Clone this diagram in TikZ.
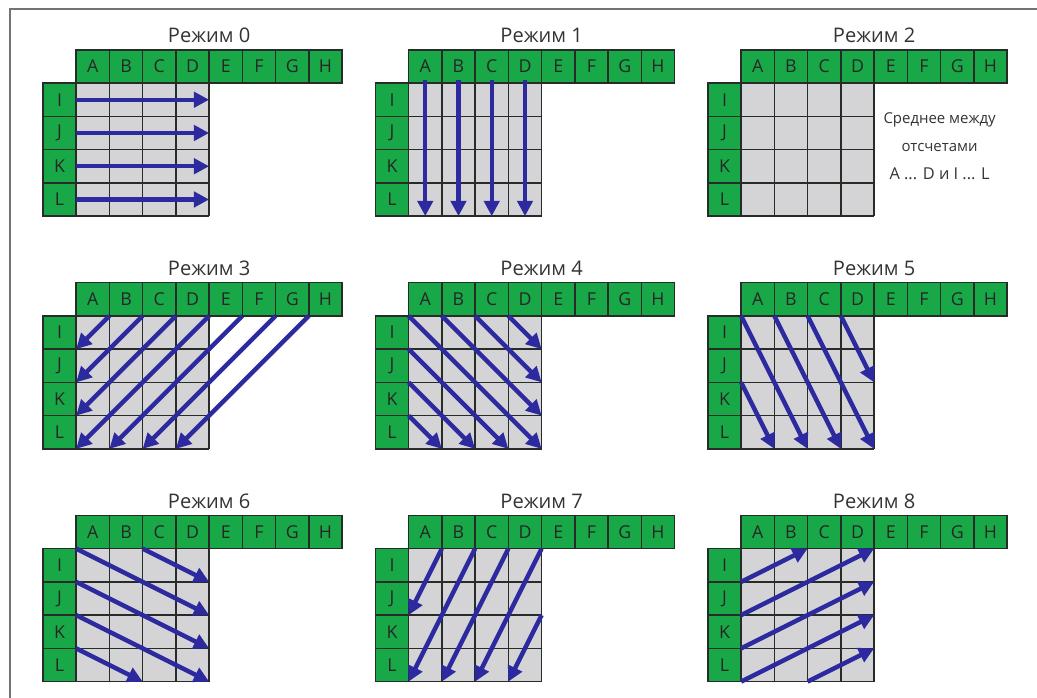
\documentclass[tikz,border=0pt]{standalone}
\usepackage{fontspec}
\setmainfont{Open Sans}
\usetikzlibrary{arrows.meta}

\definecolor{cellgreen}{RGB}{24,168,72}
\definecolor{cellgray}{RGB}{212,212,214}
\definecolor{gridline}{RGB}{40,44,40}
\definecolor{arrowblue}{RGB}{44,42,158}

\begin{document}
\begin{tikzpicture}[x=0.5cm, y=0.5cm,
    cell/.style={draw=gridline, line width=0.6pt, fill=cellgreen, minimum size=0.5cm, inner sep=0pt,
      font=\fontsize{7.6}{8}\selectfont, text=black!85},
    ray/.style={-{Triangle[length=6.5pt, width=6.5pt]}, line width=1.9pt, arrowblue},
    title/.style={anchor=base, font=\fontsize{8.6}{10}\selectfont, text=black!80},
    note/.style={anchor=base, font=\fontsize{6.4}{7}\selectfont, text=black!80},
]
  \useasboundingbox (0,0) rectangle (31.19,20.99);
  % page frame (top and left only)
  \draw[black!55, line width=0.8pt] (0.30,0) -- (0.30,20.72) -- (31.19,20.72);

  % the nine panels: grid, header row A..H, side column I..L
  \foreach \m/\c/\r in {0/0/0, 1/1/0, 2/2/0, 3/0/1, 4/1/1, 5/2/1, 6/0/2, 7/1/2, 8/2/2} {
    \coordinate (o\m) at ({2.29+10*\c}, {18.49-7*\r});
    \begin{scope}[shift={(o\m)}]
      \fill[cellgray] (0,-4) rectangle (4,0);
      \draw[gridline, line width=0.6pt, step=0.5cm] (0,-4) grid (4,0);
      \foreach \l [count=\i from 0] in {A,B,C,D,E,F,G,H}
        \node[cell] (p\m-\l) at ({\i+0.5}, 0.5) {\l};
      \foreach \l [count=\i from 0] in {I,J,K,L}
        \node[cell] (p\m-\l) at (-0.5, {-\i-0.5}) {\l};
      \node[title] (t\m) at (4, 1.21) {Режим \m};
    \end{scope}
  }

  % Режим 0: horizontal
  \begin{scope}[shift={(o0)}]
    \foreach \y in {0.5,1.5,2.5,3.5}
      \draw[ray] (0,-\y) -- (4,-\y);
  \end{scope}

  % Режим 1: vertical
  \begin{scope}[shift={(o1)}]
    \foreach \x in {0.5,1.5,2.5,3.5}
      \draw[ray] (\x,0.1) -- (\x,-4);
  \end{scope}

  % Режим 2: mean value
  \begin{scope}[shift={(o2)}]
    \node[note] (n1) at (5.97,-1.20) {Среднее между};
    \node[note] (n2) at (5.97,-2.05) {отсчетами};
    \node[note, font=\fontsize{7}{8}\selectfont] (n3) at (5.97,-2.90) {A ... D и I ... L};
  \end{scope}

  % Режим 3: diagonal down-left
  \begin{scope}[shift={(o3)}]
    \foreach \k in {1,...,4}
      \draw[ray] (\k,0) -- (0,-\k);
    \foreach \k in {5,6,7}
      \draw[ray] (\k,0) -- ({\k-4},-4);
  \end{scope}

  % Режим 4: diagonal down-right
  \begin{scope}[shift={(o4)}]
    \draw[ray] (0,0) -- (4,-4);
    \foreach \k in {1,2,3} {
      \draw[ray] (\k,0) -- (4,{\k-4});
      \draw[ray] (0,-\k) -- ({4-\k},-4);
    }
  \end{scope}

  % Режим 5: vertical-right
  \begin{scope}[shift={(o5)}]
    \foreach \k in {0,1,2}
      \draw[ray] (\k,0) -- ({\k+2},-4);
    \draw[ray] (3,0) -- (4,-2);
    \draw[ray] (0,-2) -- (1,-4);
  \end{scope}

  % Режим 6: horizontal-down
  \begin{scope}[shift={(o6)}]
    \draw[ray] (0,0) -- (4,-2);
    \draw[ray] (2,0) -- (4,-1);
    \draw[ray] (0,-1) -- (4,-3);
    \draw[ray] (0,-2) -- (4,-4);
    \draw[ray] (0,-3) -- (2,-4);
  \end{scope}

  % Режим 7: vertical-left
  \begin{scope}[shift={(o7)}]
    \draw[ray] (1,0) -- (0,-2);
    \draw[ray] (2,0) -- (0,-4);
    \draw[ray] (3,0) -- (1,-4);
    \draw[ray] (4,0) -- (2,-4);
    \draw[ray] (4,-2) -- (3,-4);
  \end{scope}

  % Режим 8: horizontal-up
  \begin{scope}[shift={(o8)}]
    \draw[ray] (0,-1) -- (2,0);
    \draw[ray] (0,-2) -- (4,0);
    \draw[ray] (0,-3) -- (4,-1);
    \draw[ray] (0,-4) -- (4,-2);
    \draw[ray] (2,-4) -- (4,-3);
  \end{scope}
\end{tikzpicture}
\end{document}
